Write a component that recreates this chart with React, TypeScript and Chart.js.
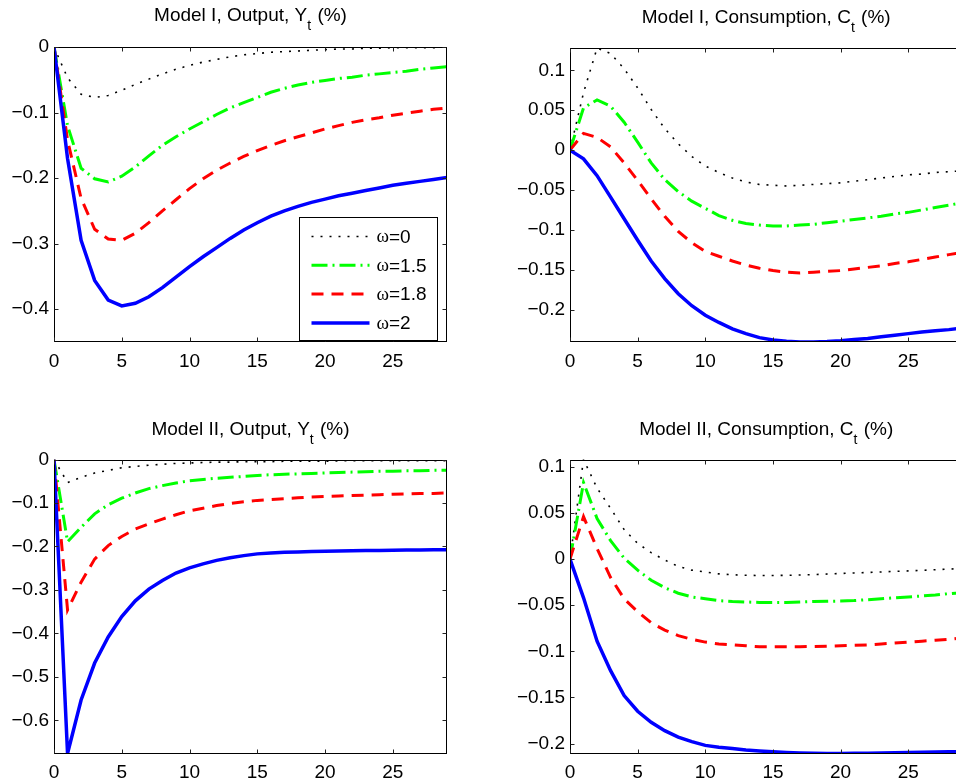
import React, { useEffect, useRef } from "react";
import { Chart, registerables } from "chart.js";

Chart.register(...registerables);

// ---------- data ----------
const PERIODS = [0, 1, 2, 3, 4, 5, 6, 7, 8, 9, 10, 11, 12, 13, 14, 15, 16, 17, 18, 19, 20, 21, 22, 23, 24, 25, 26, 27, 28, 29];
const OMEGA_LABELS = ["0", "1.5", "1.8", "2"];
const X_TICKS = [0, 5, 10, 15, 20, 25];
const X_TICK_LABELS = ["0", "5", "10", "15", "20", "25"];

// Model I, Output
const M1_Y_W0 = [0, -0.047, -0.072, -0.077, -0.074, -0.066, -0.057, -0.049, -0.041, -0.034, -0.028, -0.023, -0.019, -0.015, -0.012, -0.010, -0.008, -0.007, -0.006, -0.005, -0.004, -0.003, -0.003, -0.002, -0.002, -0.001, -0.001, -0.001, -0.001, 0];
const M1_Y_W15 = [0, -0.12, -0.185, -0.201, -0.206, -0.197, -0.183, -0.166, -0.150, -0.137, -0.125, -0.114, -0.103, -0.093, -0.085, -0.077, -0.069, -0.063, -0.058, -0.054, -0.051, -0.048, -0.046, -0.043, -0.041, -0.039, -0.037, -0.034, -0.032, -0.030];
const M1_Y_W18 = [0, -0.142, -0.231, -0.278, -0.293, -0.295, -0.284, -0.268, -0.250, -0.233, -0.216, -0.201, -0.188, -0.177, -0.167, -0.158, -0.150, -0.143, -0.137, -0.131, -0.125, -0.120, -0.115, -0.111, -0.108, -0.104, -0.101, -0.098, -0.095, -0.093];
const M1_Y_W2 = [0, -0.17, -0.295, -0.356, -0.386, -0.395, -0.391, -0.381, -0.367, -0.351, -0.335, -0.320, -0.306, -0.292, -0.279, -0.268, -0.258, -0.250, -0.243, -0.237, -0.232, -0.227, -0.223, -0.219, -0.215, -0.211, -0.208, -0.205, -0.202, -0.199];
const M1_Y_RANGE = [-0.45, 0];
const M1_Y_TICKS = [0, -0.1, -0.2, -0.3, -0.4];
const M1_Y_TICK_LABELS = ["0", "\u22120.1", "\u22120.2", "\u22120.3", "\u22120.4"];

// Model I, Consumption
const M1_C_W0 = [0, 0.072, 0.128, 0.121, 0.102, 0.078, 0.051, 0.027, 0.008, -0.008, -0.020, -0.028, -0.035, -0.040, -0.043, -0.044, -0.045, -0.044, -0.043, -0.042, -0.041, -0.039, -0.037, -0.035, -0.033, -0.031, -0.030, -0.028, -0.027, -0.026];
const M1_C_W15 = [0, 0.053, 0.063, 0.055, 0.035, 0.010, -0.016, -0.037, -0.052, -0.064, -0.073, -0.082, -0.088, -0.092, -0.094, -0.095, -0.095, -0.094, -0.093, -0.091, -0.089, -0.087, -0.085, -0.083, -0.080, -0.078, -0.075, -0.072, -0.069, -0.066];
const M1_C_W18 = [0, 0.021, 0.016, 0.004, -0.016, -0.038, -0.061, -0.083, -0.102, -0.116, -0.127, -0.133, -0.139, -0.144, -0.148, -0.151, -0.153, -0.154, -0.153, -0.152, -0.151, -0.149, -0.147, -0.145, -0.142, -0.140, -0.137, -0.134, -0.131, -0.128];
const M1_C_W2 = [0, -0.011, -0.032, -0.059, -0.086, -0.113, -0.139, -0.161, -0.180, -0.195, -0.207, -0.216, -0.224, -0.230, -0.235, -0.238, -0.2396, -0.2405, -0.2405, -0.240, -0.239, -0.2375, -0.236, -0.234, -0.232, -0.230, -0.228, -0.2265, -0.225, -0.223];
const M1_C_RANGE = [-0.2405, 0.128];
const M1_C_TICKS = [0.1, 0.05, 0, -0.05, -0.1, -0.15, -0.2];
const M1_C_TICK_LABELS = ["0.1", "0.05", "0", "\u22120.05", "\u22120.1", "\u22120.15", "\u22120.2"];

// Model II, Output
const M2_Y_W0 = [0, -0.053, -0.041, -0.031, -0.025, -0.019, -0.016, -0.013, -0.011, -0.009, -0.008, -0.007, -0.006, -0.006, -0.005, -0.005, -0.005, -0.004, -0.004, -0.004, -0.004, -0.003, -0.003, -0.003, -0.003, -0.003, -0.003, -0.003, -0.003, -0.003];
const M2_Y_W15 = [0, -0.189, -0.156, -0.125, -0.104, -0.089, -0.077, -0.067, -0.060, -0.054, -0.049, -0.046, -0.043, -0.041, -0.039, -0.037, -0.035, -0.034, -0.033, -0.032, -0.031, -0.030, -0.029, -0.028, -0.027, -0.027, -0.026, -0.026, -0.025, -0.025];
const M2_Y_W18 = [0, -0.346, -0.282, -0.229, -0.198, -0.177, -0.160, -0.148, -0.137, -0.127, -0.118, -0.112, -0.106, -0.101, -0.097, -0.094, -0.092, -0.090, -0.088, -0.086, -0.085, -0.084, -0.083, -0.082, -0.081, -0.080, -0.079, -0.078, -0.078, -0.077];
const M2_Y_W2 = [0, -0.676, -0.553, -0.468, -0.408, -0.361, -0.325, -0.298, -0.278, -0.261, -0.249, -0.240, -0.232, -0.226, -0.221, -0.217, -0.215, -0.2135, -0.2125, -0.2115, -0.211, -0.2105, -0.210, -0.2095, -0.209, -0.2085, -0.208, -0.208, -0.2078, -0.2076];
const M2_Y_RANGE = [-0.676, 0];
const M2_Y_TICKS = [0, -0.1, -0.2, -0.3, -0.4, -0.5, -0.6];
const M2_Y_TICK_LABELS = ["0", "\u22120.1", "\u22120.2", "\u22120.3", "\u22120.4", "\u22120.5", "\u22120.6"];

// Model II, Consumption
const M2_C_W0 = [0, 0.108, 0.077, 0.055, 0.032, 0.017, 0.007, -0.001, -0.008, -0.012, -0.014, -0.016, -0.017, -0.0175, -0.0178, -0.0178, -0.0176, -0.0172, -0.0168, -0.0162, -0.0156, -0.015, -0.0145, -0.014, -0.0133, -0.0128, -0.0122, -0.0115, -0.0108, -0.0102];
const M2_C_W15 = [0, 0.083, 0.044, 0.020, 0.001, -0.012, -0.023, -0.031, -0.037, -0.041, -0.043, -0.045, -0.046, -0.0465, -0.047, -0.047, -0.047, -0.0465, -0.046, -0.0458, -0.0455, -0.045, -0.044, -0.043, -0.042, -0.041, -0.040, -0.039, -0.0375, -0.0365];
const M2_C_W18 = [0, 0.046, 0.0115, -0.020, -0.043, -0.057, -0.069, -0.077, -0.083, -0.087, -0.090, -0.092, -0.093, -0.094, -0.095, -0.095, -0.095, -0.095, -0.0948, -0.0945, -0.094, -0.0935, -0.093, -0.092, -0.091, -0.090, -0.089, -0.088, -0.087, -0.0855];
const M2_C_W2 = [0, -0.042, -0.089, -0.121, -0.148, -0.165, -0.177, -0.186, -0.193, -0.198, -0.202, -0.204, -0.2055, -0.207, -0.208, -0.209, -0.2098, -0.2103, -0.2106, -0.2107, -0.2107, -0.2106, -0.2104, -0.2102, -0.210, -0.2098, -0.2095, -0.2093, -0.209, -0.2088];
const M2_C_RANGE = [-0.2108, 0.108];
const M2_C_TICKS = [0.1, 0.05, 0, -0.05, -0.1, -0.15, -0.2];
const M2_C_TICK_LABELS = ["0.1", "0.05", "0", "\u22120.05", "\u22120.1", "\u22120.15", "\u22120.2"];

// ---------- styles ----------
const SANS = '"Liberation Sans", Arial, Helvetica, sans-serif';
const SERIF = '"Liberation Serif", "Times New Roman", serif';
const FONT_SIZE = 19;
const SUB_SIZE = 14;

const LINE_STYLES = [
  { color: "#000000", width: 1.6, dash: [2, 7], order: 3 },
  { color: "#00ff00", width: 3, dash: [16, 5, 2, 5], order: 2 },
  { color: "#ff0000", width: 3, dash: [12, 8], order: 1 },
  { color: "#0000ff", width: 3.5, dash: [] as number[], order: 0 },
];

type PanelSpec = {
  left: number;
  top: number;
  width: number;
  height: number;
  area: { left: number; top: number; right: number; bottom: number };
  title: [string, string, string];
  titleBaseline: number;
  series: number[][];
  yRange: number[];
  yTicks: number[];
  yTickLabels: string[];
  legend: boolean;
};

const PANELS: PanelSpec[] = [
  {
    left: 0, top: 0, width: 478, height: 390,
    area: { left: 54, top: 47, right: 447, bottom: 342 },
    title: ["Model I, Output, Y", "t", " (%)"], titleBaseline: 21,
    series: [M1_Y_W0, M1_Y_W15, M1_Y_W18, M1_Y_W2],
    yRange: M1_Y_RANGE, yTicks: M1_Y_TICKS, yTickLabels: M1_Y_TICK_LABELS, legend: true,
  },
  {
    left: 478, top: 0, width: 520, height: 390,
    area: { left: 92, top: 48, right: 484.4, bottom: 342 },
    title: ["Model I, Consumption, C", "t", " (%)"], titleBaseline: 22.5,
    series: [M1_C_W0, M1_C_W15, M1_C_W18, M1_C_W2],
    yRange: M1_C_RANGE, yTicks: M1_C_TICKS, yTickLabels: M1_C_TICK_LABELS, legend: false,
  },
  {
    left: 0, top: 400, width: 478, height: 383,
    area: { left: 54, top: 59.5, right: 447, bottom: 353.5 },
    title: ["Model II, Output, Y", "t", " (%)"], titleBaseline: 35,
    series: [M2_Y_W0, M2_Y_W15, M2_Y_W18, M2_Y_W2],
    yRange: M2_Y_RANGE, yTicks: M2_Y_TICKS, yTickLabels: M2_Y_TICK_LABELS, legend: false,
  },
  {
    left: 478, top: 400, width: 520, height: 383,
    area: { left: 92, top: 59.5, right: 484.4, bottom: 353.5 },
    title: ["Model II, Consumption, C", "t", " (%)"], titleBaseline: 35,
    series: [M2_C_W0, M2_C_W15, M2_C_W18, M2_C_W2],
    yRange: M2_C_RANGE, yTicks: M2_C_TICKS, yTickLabels: M2_C_TICK_LABELS, legend: false,
  },
];

function Panel({ spec }: { spec: PanelSpec }) {
  const ref = useRef<HTMLCanvasElement | null>(null);

  useEffect(() => {
    const canvas = ref.current;
    if (!canvas) return;
    const a = spec.area;

    const framePlugin = {
      id: "matlabFrame",
      afterDatasetsDraw(chart: any) {
        const ctx: CanvasRenderingContext2D = chart.ctx;
        const ca = chart.chartArea;
        const xs = chart.scales.x;
        const ys = chart.scales.y;
        ctx.save();
        ctx.setLineDash([]);
        ctx.strokeStyle = "#000";
        ctx.lineWidth = 1;
        const L = Math.round(ca.left) + 0.5;
        const R = Math.round(ca.right) - 0.5;
        const T = Math.round(ca.top) + 0.5;
        const B = Math.round(ca.bottom) - 0.5;
        ctx.strokeRect(L, T, R - L, B - T);
        const tl = 4;
        ctx.strokeStyle = "#222";
        ctx.beginPath();
        X_TICKS.forEach((v) => {
          const px = Math.round(xs.getPixelForValue(v)) + 0.5;
          ctx.moveTo(px, B);
          ctx.lineTo(px, B - tl);
          ctx.moveTo(px, T);
          ctx.lineTo(px, T + tl);
        });
        spec.yTicks.forEach((v) => {
          const py = Math.round(ys.getPixelForValue(v)) + 0.5;
          ctx.moveTo(L, py);
          ctx.lineTo(L + tl, py);
          ctx.moveTo(R, py);
          ctx.lineTo(R - tl, py);
        });
        ctx.stroke();

        // title with subscript
        ctx.fillStyle = "#000";
        ctx.textBaseline = "alphabetic";
        ctx.textAlign = "left";
        const mainFont = `${FONT_SIZE}px ${SANS}`;
        const subFont = `${SUB_SIZE}px ${SANS}`;
        ctx.font = mainFont;
        const w1 = ctx.measureText(spec.title[0]).width;
        const w3 = ctx.measureText(spec.title[2]).width;
        ctx.font = subFont;
        const w2 = ctx.measureText(spec.title[1]).width + 1;
        const total = w1 + w2 + w3;
        let x = (ca.left + ca.right) / 2 - total / 2;
        const by = spec.titleBaseline;
        ctx.font = mainFont;
        ctx.fillText(spec.title[0], x, by);
        x += w1;
        ctx.font = subFont;
        ctx.fillText(spec.title[1], x, by + 9);
        x += w2;
        ctx.font = mainFont;
        ctx.fillText(spec.title[2], x, by);

        // legend
        if (spec.legend) {
          const bw = 138;
          const bh = 123;
          const bx = Math.round(ca.right - 10 - bw) + 0.5;
          const byy = Math.round(ca.bottom - 2 - bh) + 0.5;
          ctx.fillStyle = "#fff";
          ctx.fillRect(bx, byy, bw, bh);
          ctx.strokeStyle = "#000";
          ctx.lineWidth = 1;
          ctx.setLineDash([]);
          ctx.strokeRect(bx, byy, bw, bh);
          OMEGA_LABELS.forEach((lab, i) => {
            const st = LINE_STYLES[i];
            const yy = byy + 19 + i * 28.8;
            ctx.save();
            ctx.strokeStyle = st.color;
            ctx.lineWidth = st.width;
            ctx.lineCap = "butt";
            ctx.setLineDash(st.dash);
            ctx.beginPath();
            ctx.moveTo(bx + 12, yy);
            ctx.lineTo(bx + 70, yy);
            ctx.stroke();
            ctx.restore();
            ctx.fillStyle = "#000";
            ctx.textBaseline = "middle";
            ctx.font = `${FONT_SIZE}px ${SERIF}`;
            const tx = bx + 77;
            ctx.fillText("\u03c9", tx, yy + 1);
            const ow = ctx.measureText("\u03c9").width;
            ctx.font = `${FONT_SIZE}px ${SANS}`;
            ctx.fillText("=" + lab, tx + ow, yy + 1);
          });
        }
        ctx.restore();
      },
    };

    const chart = new Chart(canvas, {
      type: "line",
      data: {
        datasets: spec.series.map((s, i) => ({
          label: "\u03c9=" + OMEGA_LABELS[i],
          data: PERIODS.map((t, j) => ({ x: t, y: s[j] })),
          borderColor: LINE_STYLES[i].color,
          backgroundColor: LINE_STYLES[i].color,
          borderWidth: LINE_STYLES[i].width,
          borderDash: LINE_STYLES[i].dash,
          borderCapStyle: "butt",
          borderJoinStyle: "miter",
          pointRadius: 0,
          pointHoverRadius: 0,
          tension: 0,
          fill: false,
          clip: 0,
          order: LINE_STYLES[i].order,
        })),
      },
      options: {
        animation: false,
        responsive: false,
        maintainAspectRatio: false,
        events: [],
        layout: {
          padding: { left: 0, top: a.top, right: spec.width - a.right, bottom: 0 },
        },
        plugins: {
          legend: { display: false },
          tooltip: { enabled: false },
          title: { display: false },
        },
        scales: {
          x: {
            type: "linear",
            min: 0,
            max: 29,
            grid: { display: false, drawTicks: false },
            border: { display: false },
            ticks: {
              padding: 8,
              autoSkip: false,
              maxRotation: 0,
              color: "#000",
              font: { family: SANS, size: FONT_SIZE },
              callback: (v: any) => {
                const k = X_TICKS.indexOf(Number(v));
                return k >= 0 ? X_TICK_LABELS[k] : "";
              },
            },
            afterBuildTicks: (sc: any) => {
              sc.ticks = X_TICKS.map((v) => ({ value: v }));
            },
            afterFit: (sc: any) => {
              sc.height = spec.height - a.bottom;
            },
          },
          y: {
            type: "linear",
            min: spec.yRange[0],
            max: spec.yRange[1],
            grid: { display: false, drawTicks: false },
            border: { display: false },
            ticks: {
              padding: 5,
              autoSkip: false,
              color: "#000",
              font: { family: SANS, size: FONT_SIZE },
              callback: (v: any) => {
                const k = spec.yTicks.indexOf(Number(v));
                return k >= 0 ? spec.yTickLabels[k] : "";
              },
            },
            afterBuildTicks: (sc: any) => {
              sc.ticks = spec.yTicks.map((v) => ({ value: v }));
            },
            afterFit: (sc: any) => {
              sc.width = a.left;
            },
          },
        },
      } as any,
      plugins: [framePlugin],
    });
    return () => chart.destroy();
  }, [spec]);

  return (
    <canvas
      ref={ref}
      width={spec.width}
      height={spec.height}
      style={{ position: "absolute", left: spec.left, top: spec.top, width: spec.width, height: spec.height }}
    />
  );
}

export default function App() {
  return (
    <div
      style={{
        position: "absolute",
        left: 0,
        top: 0,
        width: 956,
        height: 783,
        overflow: "hidden",
        background: "#fff",
      }}
    >
      {PANELS.map((p, i) => (
        <Panel key={i} spec={p} />
      ))}
    </div>
  );
}
